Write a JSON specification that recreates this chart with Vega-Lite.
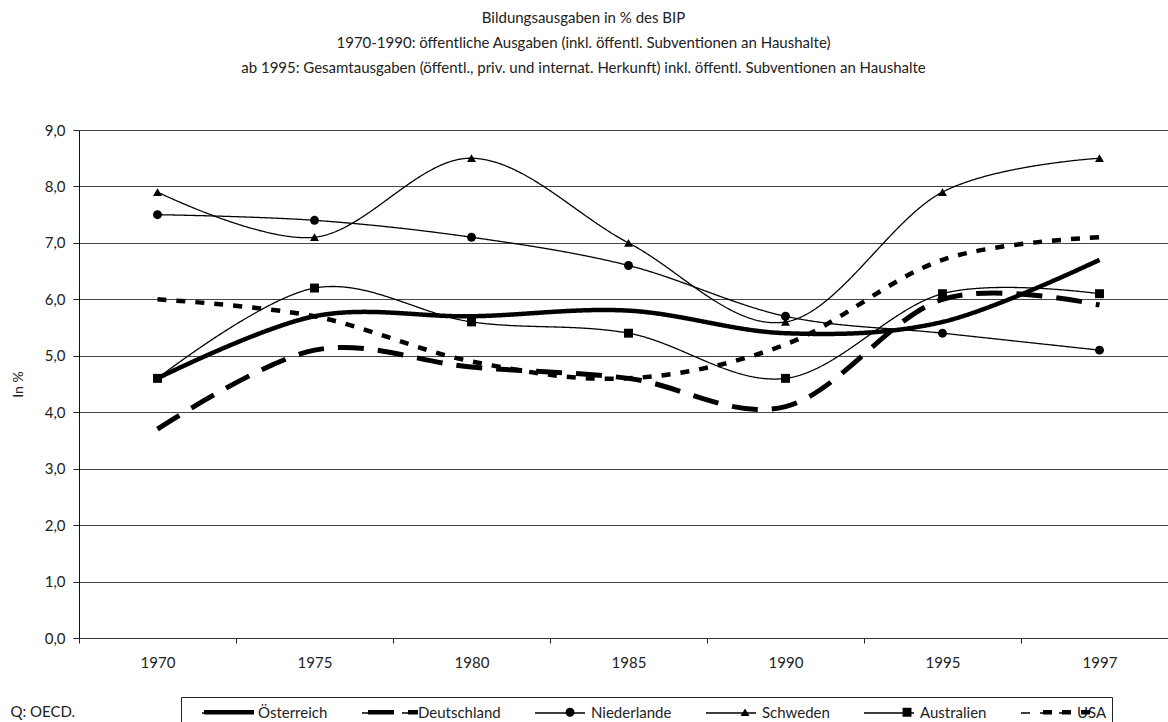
{
  "$schema": "https://vega.github.io/schema/vega-lite/v6.json",
  "width": 1089,
  "height": 508,
  "autosize": {"type": "none"},
  "padding": {"left": 79, "top": 130, "right": 0, "bottom": 84},
  "background": "white",
  "title": {
    "text": ["Bildungsausgaben in % des BIP", "1970-1990: öffentliche Ausgaben (inkl. öffentl. Subventionen an Haushalte)", "ab 1995: Gesamtausgaben (öffentl., priv. und internat. Herkunft) inkl. öffentl. Subventionen an Haushalte"],
    "anchor": "middle",
    "frame": "group",
    "dx": -40,
    "offset": 47,
    "fontSize": 15,
    "fontWeight": "normal",
    "lineHeight": 25,
    "font": "Lato",
    "color": "#222"
  },
  "data": {
    "values": [
      {"Jahr": "1970", "Land": "Österreich", "Wert": 4.6},
      {"Jahr": "1975", "Land": "Österreich", "Wert": 5.7},
      {"Jahr": "1980", "Land": "Österreich", "Wert": 5.7},
      {"Jahr": "1985", "Land": "Österreich", "Wert": 5.8},
      {"Jahr": "1990", "Land": "Österreich", "Wert": 5.4},
      {"Jahr": "1995", "Land": "Österreich", "Wert": 5.6},
      {"Jahr": "1997", "Land": "Österreich", "Wert": 6.7},
      {"Jahr": "1970", "Land": "Deutschland", "Wert": 3.7},
      {"Jahr": "1975", "Land": "Deutschland", "Wert": 5.1},
      {"Jahr": "1980", "Land": "Deutschland", "Wert": 4.8},
      {"Jahr": "1985", "Land": "Deutschland", "Wert": 4.6},
      {"Jahr": "1990", "Land": "Deutschland", "Wert": 4.1},
      {"Jahr": "1995", "Land": "Deutschland", "Wert": 6.0},
      {"Jahr": "1997", "Land": "Deutschland", "Wert": 5.9},
      {"Jahr": "1970", "Land": "Niederlande", "Wert": 7.5},
      {"Jahr": "1975", "Land": "Niederlande", "Wert": 7.4},
      {"Jahr": "1980", "Land": "Niederlande", "Wert": 7.1},
      {"Jahr": "1985", "Land": "Niederlande", "Wert": 6.6},
      {"Jahr": "1990", "Land": "Niederlande", "Wert": 5.7},
      {"Jahr": "1995", "Land": "Niederlande", "Wert": 5.4},
      {"Jahr": "1997", "Land": "Niederlande", "Wert": 5.1},
      {"Jahr": "1970", "Land": "Schweden", "Wert": 7.9},
      {"Jahr": "1975", "Land": "Schweden", "Wert": 7.1},
      {"Jahr": "1980", "Land": "Schweden", "Wert": 8.5},
      {"Jahr": "1985", "Land": "Schweden", "Wert": 7.0},
      {"Jahr": "1990", "Land": "Schweden", "Wert": 5.6},
      {"Jahr": "1995", "Land": "Schweden", "Wert": 7.9},
      {"Jahr": "1997", "Land": "Schweden", "Wert": 8.5},
      {"Jahr": "1970", "Land": "Australien", "Wert": 4.6},
      {"Jahr": "1975", "Land": "Australien", "Wert": 6.2},
      {"Jahr": "1980", "Land": "Australien", "Wert": 5.6},
      {"Jahr": "1985", "Land": "Australien", "Wert": 5.4},
      {"Jahr": "1990", "Land": "Australien", "Wert": 4.6},
      {"Jahr": "1995", "Land": "Australien", "Wert": 6.1},
      {"Jahr": "1997", "Land": "Australien", "Wert": 6.1},
      {"Jahr": "1970", "Land": "USA", "Wert": 6.0},
      {"Jahr": "1975", "Land": "USA", "Wert": 5.7},
      {"Jahr": "1980", "Land": "USA", "Wert": 4.9},
      {"Jahr": "1985", "Land": "USA", "Wert": 4.6},
      {"Jahr": "1990", "Land": "USA", "Wert": 5.2},
      {"Jahr": "1995", "Land": "USA", "Wert": 6.7},
      {"Jahr": "1997", "Land": "USA", "Wert": 7.1}
    ]
  },
  "encoding": {
    "x": {
      "field": "Jahr",
      "type": "ordinal",
      "scale": {"type": "band", "paddingInner": 0, "paddingOuter": 0, "range": [0, 1099]},
      "axis": {
        "title": "Q: OECD.",
        "titleX": -69,
        "titleY": 73,
        "titleAlign": "left",
        "titleBaseline": "middle",
        "titleFont": "Lato",
        "titleFontSize": 15,
        "titleFontWeight": "normal",
        "titleColor": "#222",
        "labelAngle": 0,
        "labelFont": "Lato",
        "labelFontSize": 15,
        "labelColor": "#222",
        "labelPadding": 12,
        "tickBand": "extent",
        "tickSize": 5,
        "tickColor": "#222",
        "domainColor": "#333",
        "grid": false
      }
    },
    "y": {
      "field": "Wert",
      "type": "quantitative",
      "scale": {"domain": [0, 9], "nice": false},
      "axis": {
        "title": "In %",
        "titleX": -61,
        "titleY": 254,
        "titleAngle": -90,
        "titleAlign": "center",
        "titleBaseline": "middle",
        "titleFont": "Lato",
        "titleFontSize": 14,
        "titleFontWeight": "normal",
        "titleColor": "#222",
        "values": [0, 1, 2, 3, 4, 5, 6, 7, 8, 9],
        "labelExpr": "replace(format(datum.value, '.1f'), '.', ',')",
        "labelFont": "Lato",
        "labelFontSize": 15,
        "labelColor": "#222",
        "labelPadding": 8,
        "tickSize": 6,
        "tickColor": "#222",
        "domainColor": "#111",
        "grid": true,
        "gridColor": "#444",
        "gridOpacity": 1
      }
    }
  },
  "resolve": {"scale": {"shape": "independent"}, "legend": {"shape": "independent"}},
  "layer": [
    {
      "mark": {"type": "line", "interpolate": "cardinal", "color": "black"},
      "encoding": {
        "strokeDash": {
          "field": "Land",
          "type": "nominal",
          "scale": {
            "domain": ["Österreich", "Deutschland", "Niederlande", "Schweden", "Australien", "USA"],
            "range": [[1, 0], [26, 14], [1, 0], [1, 0], [1, 0], [9, 10]]
          },
          "legend": {
            "title": null,
            "orient": "none",
            "legendX": 102,
            "legendY": 567,
            "direction": "horizontal",
            "columns": 6,
            "gridAlign": "each",
            "columnPadding": 18,
            "padding": 5,
            "strokeColor": "#222",
            "symbolSize": 400,
            "symbolOffset": 30,
            "symbolType": "M-2.5,0H2.5",
            "symbolStrokeWidth": 1.3,
            "symbolStrokeColor": "black",
            "labelFont": "Lato",
            "labelFontSize": 15,
            "labelColor": "#222",
            "labelOffset": 20,
            "labelLimit": 200
          }
        },
        "strokeWidth": {
          "condition": [
            {"test": "datum.Land === 'Deutschland'", "value": 5},
            {"test": "datum.Land === 'Niederlande' || datum.Land === 'Schweden' || datum.Land === 'Australien'", "value": 1.3}
          ],
          "value": 4.5
        }
      }
    },
    {
      "transform": [{"filter": {"field": "Land", "oneOf": ["Niederlande", "Schweden", "Australien"]}}],
      "mark": {"type": "point", "filled": true, "color": "black", "size": 80, "opacity": 1},
      "encoding": {
        "shape": {
          "field": "Land",
          "type": "nominal",
          "scale": {
            "domain": ["Österreich", "Deutschland", "Niederlande", "Schweden", "Australien", "USA"],
            "range": ["M0,0Z", "M0,0Z", "circle", "triangle-up", "square", "M0,0Z"]
          },
          "legend": {
            "title": null,
            "orient": "none",
            "legendX": 102,
            "legendY": 569.5,
            "direction": "horizontal",
            "columns": 6,
            "gridAlign": "each",
            "columnPadding": 18,
            "padding": 5,
            "symbolSize": 80,
            "symbolOffset": 35.53,
            "symbolFillColor": "black",
            "symbolStrokeWidth": 0,
            "symbolOpacity": 1,
            "labelFont": "Lato",
            "labelFontSize": 15,
            "labelOpacity": 0,
            "labelOffset": 25.53,
            "labelLimit": 200
          }
        }
      }
    },
    {
      "mark": {"type": "point", "filled": false, "color": "black", "size": 80, "opacity": 0},
      "encoding": {
        "shape": {
          "field": "Land",
          "type": "nominal",
          "scale": {
            "domain": ["Österreich", "Deutschland", "Niederlande", "Schweden", "Australien", "USA"],
            "range": ["M-5.59,0H5.59", "M-5.59,0H0.22M3.35,0H5.59", "M0,0Z", "M0,0Z", "M0,0Z", "M-5.59,0H-3.58M-1.34,0H0.67M2.91,0H4.92"]
          },
          "legend": {
            "title": null,
            "orient": "none",
            "legendX": 102,
            "legendY": 569.5,
            "direction": "horizontal",
            "columns": 6,
            "gridAlign": "each",
            "columnPadding": 18,
            "padding": 5,
            "symbolSize": 80,
            "symbolOffset": 35.53,
            "symbolFillColor": "transparent",
            "symbolStrokeColor": "black",
            "symbolStrokeWidth": 4.5,
            "symbolOpacity": 1,
            "labelFont": "Lato",
            "labelFontSize": 15,
            "labelOpacity": 0,
            "labelOffset": 25.53,
            "labelLimit": 200
          }
        }
      }
    }
  ],
  "config": {"view": {"stroke": null}, "font": "Lato"}
}
